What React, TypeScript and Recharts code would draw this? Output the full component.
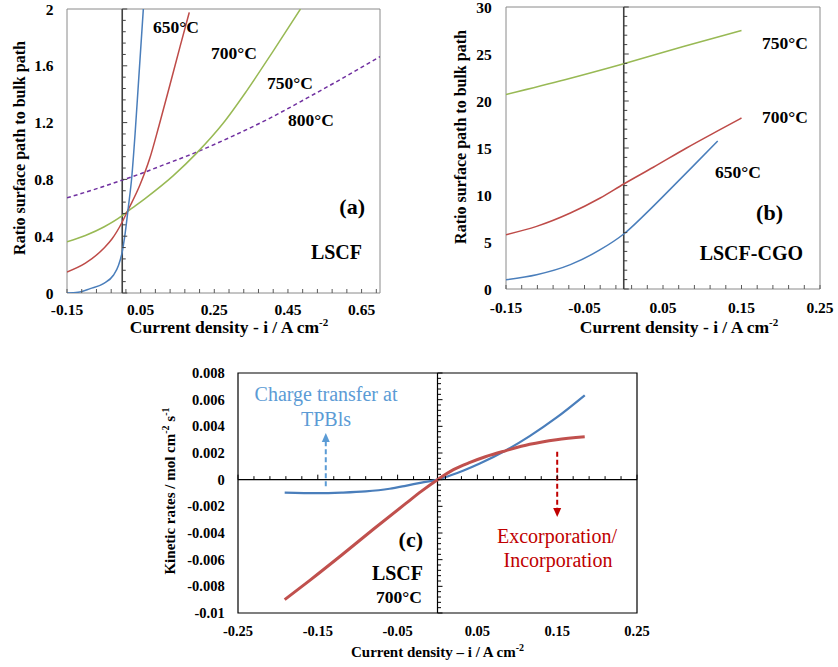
import React from 'react';
import { LineChart, Line, XAxis, YAxis, ReferenceLine, ReferenceDot, ReferenceArea } from 'recharts';

const SERIF = '"Liberation Serif", "Times New Roman", serif';

// ---------- (a) LSCF ----------
const aX650 = [-0.15, -0.12, -0.087, -0.051, -0.024, -0.01, 0, 0.006, 0.0167, 0.026, 0.035, 0.044, 0.0573];
const aY650 = [0, 0.005, 0.031, 0.066, 0.125, 0.195, 0.29, 0.384, 0.607, 0.819, 1.125, 1.478, 2.0];
const aX700 = [-0.15, -0.1, -0.05, -0.028, 0, 0.015, 0.048, 0.075, 0.1, 0.13, 0.157, 0.182];
const aY700 = [0.148, 0.21, 0.315, 0.38, 0.5, 0.58, 0.76, 0.95, 1.18, 1.47, 1.735, 1.976];
const aX750 = [-0.15, -0.1, -0.05, 0, 0.015, 0.062, 0.138, 0.202, 0.274, 0.337, 0.409, 0.484];
const aY750 = [0.36, 0.405, 0.465, 0.545, 0.575, 0.665, 0.825, 0.985, 1.195, 1.42, 1.7, 2.0];
const aX800 = [-0.15, -0.075, 0, 0.05, 0.1, 0.2, 0.3, 0.4, 0.5, 0.6, 0.7];
const aY800 = [0.67, 0.73, 0.795, 0.84, 0.89, 0.99, 1.105, 1.23, 1.37, 1.515, 1.665];
const aXTicks = [-0.15, 0.05, 0.25, 0.45, 0.65];
const aYTicks = [0, 0.4, 0.8, 1.2, 1.6, 2];
const aXDomain: [number, number] = [-0.15, 0.7];
const aYDomain: [number, number] = [0, 2];

// ---------- (b) LSCF-CGO ----------
const bX650 = [-0.15, -0.111, -0.068, -0.03, 0, 0.029, 0.059, 0.0886, 0.1197];
const bY650 = [0.99, 1.52, 2.59, 4.18, 5.85, 8.1, 10.6, 13.1, 15.75];
const bX700 = [-0.15, -0.111, -0.068, -0.03, 0, 0.0377, 0.08, 0.1226, 0.15];
const bY700 = [5.78, 6.66, 8.08, 9.68, 11.17, 12.95, 15.0, 16.95, 18.19];
const bX750 = [-0.15, -0.075, 0, 0.076, 0.15];
const bY750 = [20.7, 22.27, 23.97, 25.8, 27.5];
const bXTicks = [-0.15, -0.05, 0.05, 0.15, 0.25];
const bYTicks = [0, 5, 10, 15, 20, 25, 30];
const bXDomain: [number, number] = [-0.15, 0.25];
const bYDomain: [number, number] = [0, 30];

// ---------- (c) kinetic rates, LSCF 700°C ----------
const cXTpb = [-0.1915, -0.15, -0.12, -0.09, -0.06, -0.04, -0.02, 0, 0.015, 0.032, 0.053, 0.086, 0.1155, 0.149, 0.1845];
const cYTpb = [-0.00097, -0.00101, -0.00097, -0.00088, -0.00068, -0.00046, -0.00022, 0, 0.0003, 0.00067, 0.00121, 0.00221, 0.00327, 0.00465, 0.00633];
const cXInc = [-0.1915, -0.16, -0.12, -0.08, -0.04, -0.02, 0, 0.02, 0.04, 0.06, 0.086, 0.1155, 0.149, 0.1845];
const cYInc = [-0.009, -0.00755, -0.00565, -0.0037, -0.0018, -0.00086, 0, 0.00075, 0.00128, 0.00172, 0.00218, 0.00265, 0.003, 0.00321];
const cXTicks = [-0.25, -0.15, -0.05, 0.05, 0.15, 0.25];
const cYTicks = [-0.01, -0.008, -0.006, -0.004, -0.002, 0, 0.002, 0.004, 0.006, 0.008];
const cXDomain: [number, number] = [-0.25, 0.25];
const cYDomain: [number, number] = [-0.01, 0.008];
const cArrowTpbX = -0.14;
const cArrowTpbY = [-0.0005, 0.0035];
const cArrowIncX = 0.15;
const cArrowIncY = [0.0021, -0.0028];

const BLUE = '#4A7EBB';
const RED = '#BE4B48';
const GREEN = '#98B954';
const PURPLE = '#7030A0';

const toPoints = (xs: number[], ys: number[]) => xs.map((x, i) => ({ x, y: ys[i] }));
const steps = (start: number, end: number, step: number) => {
  const out: number[] = [];
  const n = Math.round((end - start) / step);
  for (let k = 0; k <= n; k++) out.push(+(start + k * step).toFixed(6));
  return out;
};
const fmt = (v: number) => String(+Number(v).toFixed(4));
const isMajor = (v: number, start: number, step: number) => {
  const r = (v - start) / step;
  return Math.abs(r - Math.round(r)) < 1e-6;
};

const tickMark = (dx: number, dy: number, color: string) => (p: any) => (
  <line x1={p.cx} y1={p.cy} x2={p.cx + dx} y2={p.cy + dy} stroke={color} strokeWidth={1} />
);

const arrowHead = (dir: 'up' | 'down', color: string) => (p: any) => {
  const s = dir === 'up' ? 1 : -1;
  return (
    <polygon
      points={`${p.cx},${p.cy} ${p.cx - 4},${p.cy + s * 9} ${p.cx + 4},${p.cy + s * 9}`}
      fill={color}
    />
  );
};

const tickStyle = (size: number) => ({ fontFamily: SERIF, fontWeight: 'bold', fontSize: size, fill: '#000' });

function ChartA() {
  const xMinor = steps(-0.15, 0.69, 0.04);
  const yMinor = steps(0, 2, 0.08);
  return (
    <LineChart width={400} height={330} margin={{ top: 9, right: 20, bottom: 0, left: 0 }}>
      <XAxis type="number" dataKey="x" domain={aXDomain} ticks={aXTicks} allowDataOverflow interval={0}
        tickFormatter={fmt} axisLine={false} tickLine={false} tickSize={6} tickMargin={5} height={37} tick={tickStyle(15.5)} />
      <YAxis type="number" domain={aYDomain} ticks={aYTicks} allowDataOverflow interval={0}
        tickFormatter={fmt} axisLine={false} tickLine={false} tickSize={6} tickMargin={7.5} width={67} tick={tickStyle(15.5)} />
      <ReferenceArea x1={aXDomain[0]} x2={aXDomain[1]} y1={aYDomain[0]} y2={aYDomain[1]} fill="none" stroke="#8a8a8a" strokeWidth={1} ifOverflow="visible" />
      {xMinor.map((v) => (
        <ReferenceDot key={'ax' + v} x={v} y={0} ifOverflow="visible" shape={tickMark(0, -4, '#595959')} />
      ))}
      {yMinor.map((v) => (
        <ReferenceDot key={'ay' + v} x={0} y={v} ifOverflow="visible" shape={tickMark(isMajor(v, 0, 0.4) ? 5 : 3.5, 0, '#404040')} />
      ))}
      <ReferenceLine x={0} stroke="#404040" strokeWidth={1.6} />
      <Line data={toPoints(aX800, aY800)} dataKey="y" type="monotone" stroke={PURPLE} strokeWidth={1.5} strokeDasharray="4 3" dot={false} isAnimationActive={false} />
      <Line data={toPoints(aX750, aY750)} dataKey="y" type="monotone" stroke={GREEN} strokeWidth={1.5} dot={false} isAnimationActive={false} />
      <Line data={toPoints(aX700, aY700)} dataKey="y" type="monotone" stroke={RED} strokeWidth={1.5} dot={false} isAnimationActive={false} />
      <Line data={toPoints(aX650, aY650)} dataKey="y" type="monotone" stroke={BLUE} strokeWidth={1.5} dot={false} isAnimationActive={false} />
    </LineChart>
  );
}

function ChartB() {
  const xMinor = steps(-0.15, 0.25, 0.02);
  const yMinor = steps(0, 30, 1);
  return (
    <LineChart width={418} height={330} margin={{ top: 7, right: 18, bottom: 0, left: 0 }}>
      <XAxis type="number" dataKey="x" domain={bXDomain} ticks={bXTicks} allowDataOverflow interval={0}
        tickFormatter={fmt} axisLine={false} tickLine={false} tickSize={6} tickMargin={7} height={41} tick={tickStyle(15.5)} />
      <YAxis type="number" domain={bYDomain} ticks={bYTicks} allowDataOverflow interval={0}
        tickFormatter={fmt} axisLine={false} tickLine={false} tickSize={6} tickMargin={8.3} width={86} tick={tickStyle(15.5)} />
      <ReferenceArea x1={bXDomain[0]} x2={bXDomain[1]} y1={bYDomain[0]} y2={bYDomain[1]} fill="none" stroke="#8a8a8a" strokeWidth={1} ifOverflow="visible" />
      {xMinor.map((v) => (
        <ReferenceDot key={'bx' + v} x={v} y={0} ifOverflow="visible" shape={tickMark(0, -4, '#595959')} />
      ))}
      {yMinor.map((v) => (
        <ReferenceDot key={'by' + v} x={0} y={v} ifOverflow="visible" shape={tickMark(isMajor(v, 0, 5) ? 5 : 3.5, 0, '#404040')} />
      ))}
      <ReferenceLine x={0} stroke="#404040" strokeWidth={1.6} />
      <Line data={toPoints(bX750, bY750)} dataKey="y" type="monotone" stroke={GREEN} strokeWidth={1.5} dot={false} isAnimationActive={false} />
      <Line data={toPoints(bX700, bY700)} dataKey="y" type="monotone" stroke={RED} strokeWidth={1.5} dot={false} isAnimationActive={false} />
      <Line data={toPoints(bX650, bY650)} dataKey="y" type="monotone" stroke={BLUE} strokeWidth={1.5} dot={false} isAnimationActive={false} />
    </LineChart>
  );
}

function ChartC() {
  const xMinor = steps(-0.25, 0.25, 0.02);
  const yMinor = steps(-0.01, 0.008, 0.0004);
  return (
    <LineChart width={510} height={337} margin={{ top: 43, right: 23, bottom: 0, left: 0 }}>
      <XAxis type="number" dataKey="x" domain={cXDomain} ticks={cXTicks} allowDataOverflow interval={0}
        tickFormatter={fmt} axisLine={false} tickLine={false} tickSize={6} tickMargin={6.9} height={54} tick={tickStyle(14.5)} />
      <YAxis type="number" domain={cYDomain} ticks={cYTicks} allowDataOverflow interval={0}
        tickFormatter={fmt} axisLine={false} tickLine={false} tickSize={6} tickMargin={7.3} width={88} tick={tickStyle(14.5)} />
      <ReferenceArea x1={cXDomain[0]} x2={cXDomain[1]} y1={cYDomain[0]} y2={cYDomain[1]} fill="none" stroke="#000" strokeWidth={1.2} ifOverflow="visible" />
      {xMinor.map((v) => (
        <ReferenceDot key={'cx' + v} x={v} y={0} ifOverflow="visible" shape={tickMark(0, isMajor(v, -0.25, 0.1) ? -5 : -3.5, '#000')} />
      ))}
      {yMinor.map((v) => (
        <ReferenceDot key={'cy' + v} x={0} y={v} ifOverflow="visible" shape={tickMark(isMajor(v, -0.01, 0.002) ? 5 : 3.5, 0, '#000')} />
      ))}
      <ReferenceLine x={0} stroke="#000" strokeWidth={1.2} />
      <ReferenceLine y={0} stroke="#000" strokeWidth={1.2} />
      <ReferenceLine segment={[{ x: cArrowTpbX, y: cArrowTpbY[0] }, { x: cArrowTpbX, y: cArrowTpbY[1] - 0.0005 }]} stroke="#5B9BD5" strokeWidth={2} strokeDasharray="5 3" ifOverflow="visible" />
      <ReferenceDot x={cArrowTpbX} y={cArrowTpbY[1]} ifOverflow="visible" shape={arrowHead('up', '#5B9BD5')} />
      <ReferenceLine segment={[{ x: cArrowIncX, y: cArrowIncY[0] }, { x: cArrowIncX, y: cArrowIncY[1] + 0.0005 }]} stroke="#C00000" strokeWidth={2} strokeDasharray="5 3" ifOverflow="visible" />
      <ReferenceDot x={cArrowIncX} y={cArrowIncY[1]} ifOverflow="visible" shape={arrowHead('down', '#C00000')} />
      <Line data={toPoints(cXTpb, cYTpb)} dataKey="y" type="monotone" stroke={BLUE} strokeWidth={2.2} dot={false} isAnimationActive={false} />
      <Line data={toPoints(cXInc, cYInc)} dataKey="y" type="monotone" stroke="#C0504D" strokeWidth={3} dot={false} isAnimationActive={false} />
    </LineChart>
  );
}

function Overlay() {
  const b = { fontFamily: SERIF, fontWeight: 'bold' as const, fill: '#000' };
  return (
    <svg width={838} height={667} style={{ position: 'absolute', left: 0, top: 0, pointerEvents: 'none' }}>
      {/* (a) */}
      <text {...b} fontSize={16} x={24.5} y={148} textAnchor="middle" transform="rotate(-90 24.5 148)">Ratio surface path to bulk path</text>
      <text {...b} fontSize={17.5} x={229} y={333} textAnchor="middle">Current density - i / A cm<tspan dy={-7} fontSize={11}>-2</tspan></text>
      <text {...b} fontSize={17.5} x={153} y={33}>650°C</text>
      <text {...b} fontSize={17.5} x={211} y={59}>700°C</text>
      <text {...b} fontSize={17.5} x={267} y={89}>750°C</text>
      <text {...b} fontSize={17.5} x={288} y={126}>800°C</text>
      <text {...b} fontSize={22} x={365} y={214} textAnchor="end">(a)</text>
      <text {...b} fontSize={20} x={362} y={259} textAnchor="end">LSCF</text>
      {/* (b) */}
      <text {...b} fontSize={16} x={466} y={137} textAnchor="middle" transform="rotate(-90 466 137)">Ratio surface path to bulk path</text>
      <text {...b} fontSize={17.5} x={679} y={333} textAnchor="middle">Current density - i / A cm<tspan dy={-7} fontSize={11}>-2</tspan></text>
      <text {...b} fontSize={17.5} x={762} y={49}>750°C</text>
      <text {...b} fontSize={17.5} x={762} y={123}>700°C</text>
      <text {...b} fontSize={17.5} x={715} y={178}>650°C</text>
      <text {...b} fontSize={22} x={783} y={220} textAnchor="end">(b)</text>
      <text {...b} fontSize={20} x={803} y={260} textAnchor="end">LSCF-CGO</text>
      {/* (c) */}
      <text {...b} fontSize={15} x={174.5} y={491} textAnchor="middle" transform="rotate(-90 174.5 491)">Kinetic rates / mol cm<tspan dy={-6} fontSize={10}>-2</tspan><tspan dy={6}> s</tspan><tspan dy={-6} fontSize={10}>-1</tspan></text>
      <text {...b} fontSize={15} x={437.5} y={657} textAnchor="middle">Current density – i / A cm<tspan dy={-6} fontSize={10}>-2</tspan></text>
      <text fontFamily={SERIF} fontSize={20} fill="#5B9BD5" x={326} y={401} textAnchor="middle">Charge transfer at</text>
      <text fontFamily={SERIF} fontSize={20} fill="#5B9BD5" x={326} y={426} textAnchor="middle">TPBls</text>
      <text fontFamily={SERIF} fontSize={20} fill="#C00000" x={557} y={543} textAnchor="middle">Excorporation/</text>
      <text fontFamily={SERIF} fontSize={20} fill="#C00000" x={558} y={567} textAnchor="middle">Incorporation</text>
      <text {...b} fontSize={22} x={423} y={547} textAnchor="end">(c)</text>
      <text {...b} fontSize={20} x={423} y={580} textAnchor="end">LSCF</text>
      <text {...b} fontSize={17.5} x={422} y={603} textAnchor="end">700°C</text>
    </svg>
  );
}

export default function App() {
  return (
    <div style={{ position: 'absolute', left: 0, top: 0, width: 838, height: 667, background: '#fff', overflow: 'hidden' }}>
      <div style={{ position: 'absolute', left: 0, top: 0 }}><ChartA /></div>
      <div style={{ position: 'absolute', left: 420, top: 0 }}><ChartB /></div>
      <div style={{ position: 'absolute', left: 150, top: 330 }}><ChartC /></div>
      <Overlay />
    </div>
  );
}
